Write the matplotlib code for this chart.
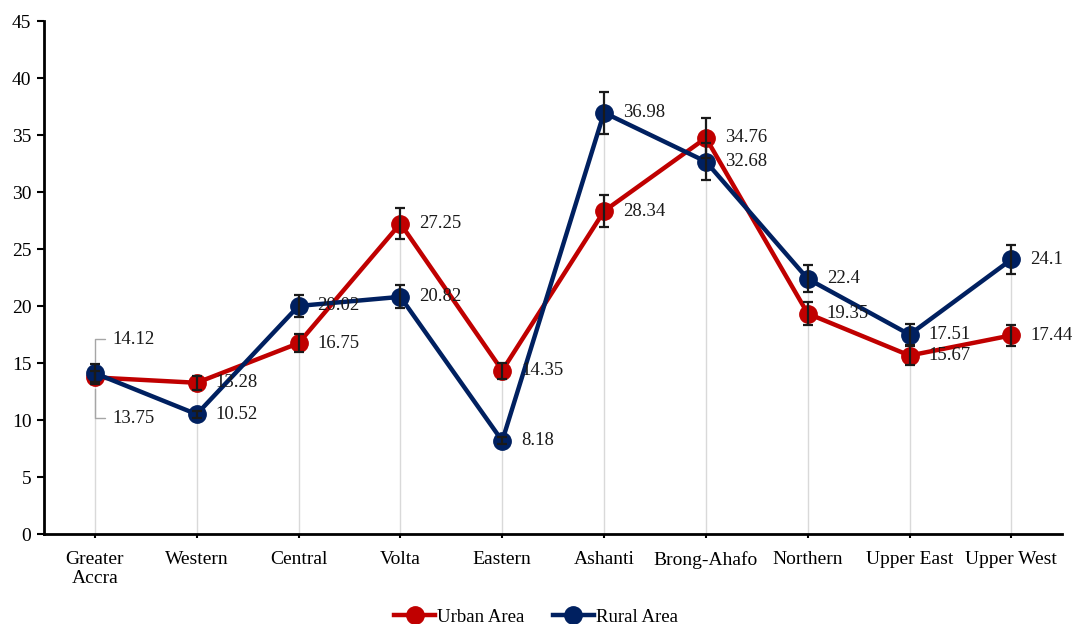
import numpy as np
import matplotlib
matplotlib.use('Agg')
import matplotlib.pyplot as plt

plt.rcParams['font.family'] = ['Liberation Serif', 'DejaVu Serif']

regions = ['Greater\nAccra', 'Western', 'Central', 'Volta', 'Eastern',
           'Ashanti', 'Brong-Ahafo', 'Northern', 'Upper East', 'Upper West']
urban = [13.75, 13.28, 16.75, 27.25, 14.35, 28.34, 34.76, 19.35, 15.67, 17.44]
rural = [14.12, 10.52, 20.02, 20.82, 8.18, 36.98, 32.68, 22.4, 17.51, 24.1]
urban_err = [0.6, 0.6, 0.8, 1.4, 0.7, 1.4, 1.75, 1.0, 0.8, 0.9]
rural_err = [0.8, 0.3, 1.0, 1.0, 0.3, 1.85, 1.6, 1.2, 0.9, 1.25]

RED = '#C00000'
BLUE = '#002060'
FS = 14
LFS = 13.5

fig = plt.figure(figsize=(10.72, 6.24), dpi=100)
ax = fig.add_axes([0.041, 0.144, 0.95, 0.822])

x = np.arange(len(regions))

# drop lines
ax.vlines(x, 0, np.maximum(urban, rural), color='#d9d9d9', lw=1, zorder=1)

ax.plot(x, urban, color=RED, lw=3.2, marker='o', ms=12.5, label='Urban Area', zorder=3)
ax.plot(x, rural, color=BLUE, lw=3.2, marker='o', ms=12.5, label='Rural Area', zorder=4)
ax.errorbar(x, urban, yerr=urban_err, fmt='none', ecolor='#1a1a1a', elinewidth=1.6,
            capsize=3.5, capthick=1.6, zorder=5)
ax.errorbar(x, rural, yerr=rural_err, fmt='none', ecolor='#1a1a1a', elinewidth=1.6,
            capsize=3.5, capthick=1.6, zorder=5)

# data labels
for i in range(1, len(regions)):
    for v in (urban[i], rural[i]):
        ax.annotate('{:g}'.format(v), xy=(i, v), xytext=(19, 0), textcoords='offset pixels',
                    ha='left', va='center', fontsize=LFS, color='#1a1a1a', zorder=6)

# Greater Accra labels with leader lines
for v, dy in ((rural[0], 34), (urban[0], -41)):
    ax.annotate('{:g}'.format(v), xy=(0, v), xytext=(18, dy), textcoords='offset pixels',
                ha='left', va='center', fontsize=LFS, color='#1a1a1a', zorder=6,
                arrowprops=dict(arrowstyle='-', color='#a6a6a6', lw=1, relpos=(0, 0.5),
                                shrinkA=4, shrinkB=8,
                                connectionstyle='angle,angleA=0,angleB=90,rad=0'))

ax.set_xlim(-0.5, len(regions) - 0.5)
ax.set_ylim(0, 45)
ax.set_yticks(range(0, 46, 5))
ax.set_xticks(x)
ax.set_xticklabels(regions, fontsize=FS, linespacing=1.15)
ax.tick_params(axis='y', labelsize=FS, length=5, width=1.5, pad=4)
ax.tick_params(axis='x', length=3, width=1.5, pad=9)

for s in ('top', 'right'):
    ax.spines[s].set_visible(False)
for s in ('left', 'bottom'):
    ax.spines[s].set_linewidth(2)

fig.legend(loc='lower center', bbox_to_anchor=(0.5, -0.03), ncol=2, frameon=False,
           fontsize=13.5, handlelength=2.2, handletextpad=0.1, columnspacing=1.5)

fig.savefig('out.png', dpi=100)
